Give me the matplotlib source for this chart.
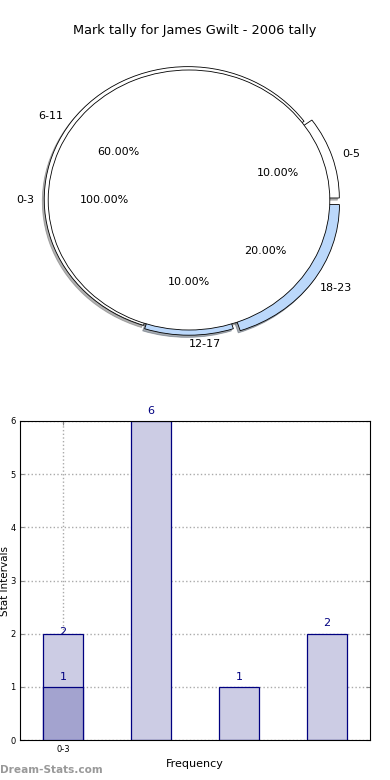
import matplotlib
matplotlib.use("Agg")
import matplotlib.pyplot as plt

# pie data
back_labels = ['0-5', '6-11', '12-17', '18-23']
back_values = [1, 6, 1, 2]
back_colors = ['#ffffff', '#ffffff', '#bbd8fb', '#bbd8fb']
back_explode = [0.05, 0.01, 0.02, 0.06]
front_labels = ['0-3']
front_values = [1]

# bar data
bar_pos = [0, 1, 2, 3]
bar_values = [2, 6, 1, 2]
front_bar_pos = [0]
front_bar_values = [1]
xtick_labels = ['0-3']

fig = plt.figure(figsize=(3.9, 7.8), dpi=100)
fig.text(0.5, 0.961, 'Mark tally for James Gwilt - 2006 tally', ha='center', va='center', fontsize=9.3)

shadow = {'ox': -0.01, 'oy': -0.012, 'shade': 0.6}

# pie chart
ax1 = fig.add_axes([13 / 390, 417.5 / 780, 352 / 390, 325 / 780])
ax1.pie(back_values, labels=back_labels, colors=back_colors, explode=back_explode,
        autopct='%.2f%%', shadow=shadow, startangle=0, radius=1.02, labeldistance=1.07,
        wedgeprops={'edgecolor': 'black', 'linewidth': 0.6},
        textprops={'fontsize': 8})
ax1.pie(front_values, labels=front_labels, colors=['white'], autopct='%.2f%%',
        shadow=shadow, startangle=0, radius=1.0,
        wedgeprops={'edgecolor': 'black', 'linewidth': 0.6},
        textprops={'fontsize': 8})
ax1.set_aspect('auto')
ax1.set_xlim(-1.25, 1.25)
ax1.set_ylim(-1.25, 1.25)

# bar chart
ax2 = fig.add_axes([20 / 390, 40 / 780, 350 / 390, 319 / 780])
ax2.bar(bar_pos, bar_values, width=0.45, color='#ccccE4', edgecolor='#000080', linewidth=0.9, zorder=2)
ax2.bar(front_bar_pos, front_bar_values, width=0.45, color='#a3a3cf', edgecolor='#000080', linewidth=0.9, zorder=3)
for x, v in zip(bar_pos, bar_values):
    off = -0.06 if x == 0 else 0.1
    ax2.text(x, v + off, str(v), ha='center', va='bottom', color='#000080', fontsize=8, zorder=4)
for x, v in zip(front_bar_pos, front_bar_values):
    ax2.text(x, v + 0.1, str(v), ha='center', va='bottom', color='#000080', fontsize=8, zorder=4)

ax2.set_xlim(-0.49, 3.49)
ax2.set_ylim(0, 6)
ax2.set_xticks([0])
ax2.set_xticklabels(xtick_labels)
ax2.set_yticks(range(7))
ax2.tick_params(labelsize=6, direction='in', right=True, top=True, length=3, color='#888888')
ax2.tick_params(axis='y', pad=3)
ax2.grid(True, linestyle=':', color='#aaaaaa', linewidth=1, zorder=0)
ax2.set_axisbelow(True)
ax2.set_xlabel('Frequency', fontsize=8)
ax2.set_ylabel('Stat Intervals', fontsize=7.5, ha='center', va='center')
ax2.yaxis.set_label_coords(-14.5 / 350, 0.5)

fig.text(0.0, 0.0128, 'Dream-Stats.com', fontsize=7.6, fontweight='bold', color='#999999', ha='left', va='center')

fig.savefig('out.png', dpi=100)
